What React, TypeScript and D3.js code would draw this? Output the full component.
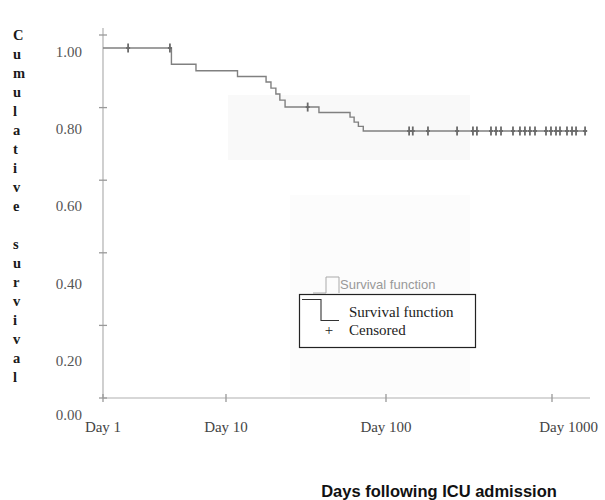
import React from 'react';
import * as d3 from 'd3';

// ---- data ----
const xTickDays = [1, 10, 100, 1000];
const xTickLabels = ['Day 1', 'Day 10', 'Day 100', 'Day 1000'];
const yTickValues = [0, 0.2, 0.4, 0.6, 0.8, 1.0];
const yTickLabels = ['0.00', '0.20', '0.40', '0.60', '0.80', '1.00'];
const eventDays = [1, 3.6, 5.7, 11.8, 17.8, 19.1, 20.5, 21.7, 23.4, 38.1, 59.6, 63.2, 67.2, 72.1];
const survival = [1.0, 0.958, 0.941, 0.926, 0.912, 0.896, 0.881, 0.865, 0.847, 0.833, 0.821, 0.808, 0.797, 0.785];
const lastDay = 1630;
const censoredDays = [1.6, 3.5, 32.4, 137.8, 145, 179, 268, 334, 353, 429, 460, 493, 582, 641, 687, 736, 790, 920, 986, 1057, 1117, 1231, 1320, 1396, 1582];
const yTitle = 'Cumulative survival';
const xTitle = 'Days following ICU admission';
const legendLabels = ['Survival function', 'Censored'];

const W = 605;
const H = 500;

export default function App() {
  // x: log-day positions (piecewise, as drawn in the scan)
  const xLog = d3.scaleLinear().domain([0, 1, 2, 3]).range([103, 226, 386, 552]);
  const x = (d: number) => xLog(Math.log10(d));
  // y for the curve and value labels
  const y = d3.scaleLinear().domain([0, 1]).range([434, 48]);
  // y for the axis frame ticks
  const yAxis = d3.scaleLinear().domain([0, 1]).range([398, 35]);

  const axisX = xLog(0);
  const axisY = yAxis(0);

  const pts: [number, number][] = eventDays.map((d, i) => [d, survival[i]]);
  pts.push([lastDay, survival[survival.length - 1]]);
  const line = d3
    .line<[number, number]>()
    .x((p) => x(p[0]))
    .y((p) => y(p[1]))
    .curve(d3.curveStepAfter);

  const survAt = (t: number) => {
    let s = survival[0];
    eventDays.forEach((d, i) => {
      if (d <= t) s = survival[i];
    });
    return s;
  };

  const serif = "'Liberation Serif', 'Times New Roman', serif";
  const sans = "'Liberation Sans', Arial, sans-serif";
  const titleChars = yTitle.split('');

  return (
    <svg
      width={W}
      height={H}
      style={{ position: 'absolute', left: 0, top: 0, background: '#fff' }}
    >
      <rect x={0} y={0} width={W} height={H} fill="#fff" />
      {/* faint scan shading */}
      <rect x={228} y={95} width={242} height={65} fill="#f9f9f9" />
      <rect x={290} y={195} width={180} height={200} fill="#fcfcfc" />

      {/* y title, stacked letters */}
      {titleChars.map((c, i) => (
        <text
          key={i}
          x={13}
          y={40 + i * 19}
          fontFamily={serif}
          fontWeight="bold"
          fontSize={14.5}
          fill="#1a1a1a"
        >
          {c}
        </text>
      ))}

      {/* axes */}
      <line x1={axisX} y1={28} x2={axisX} y2={axisY} stroke="#b0b0b0" strokeWidth={1.2} />
      <line x1={axisX} y1={axisY} x2={590} y2={axisY} stroke="#b0b0b0" strokeWidth={1.2} />
      {yTickValues.map((v) => (
        <line
          key={'yt' + v}
          x1={axisX - 4}
          x2={axisX + 4}
          y1={yAxis(v)}
          y2={yAxis(v)}
          stroke="#999"
          strokeWidth={1.3}
        />
      ))}
      {xTickDays.map((d) => (
        <line
          key={'xt' + d}
          x1={x(d)}
          x2={x(d)}
          y1={axisY - 4}
          y2={axisY + 4}
          stroke="#999"
          strokeWidth={1.3}
        />
      ))}

      {/* y labels */}
      {yTickValues.map((v, i) => (
        <text
          key={'yl' + v}
          x={82}
          y={v === 0 ? axisY + 22 : y(v) + 9}
          textAnchor="end"
          fontFamily={serif}
          fontSize={15}
          fill="#555"
        >
          {yTickLabels[i]}
        </text>
      ))}

      {/* x labels */}
      {xTickDays.map((d, i) => {
        const last = i === xTickDays.length - 1;
        return (
          <text
            key={'xl' + d}
            x={last ? 598 : x(d)}
            y={432}
            textAnchor={last ? 'end' : 'middle'}
            fontFamily={serif}
            fontSize={15}
            fill="#444"
          >
            {xTickLabels[i]}
          </text>
        );
      })}

      {/* survival curve */}
      <path d={line(pts) || ''} fill="none" stroke="#808080" strokeWidth={1.4} />

      {/* censored marks */}
      {censoredDays.map((d, i) => {
        const cx = x(d);
        const cy = y(survAt(d));
        return (
          <g key={'c' + i} stroke="#6a6a6a" strokeWidth={1.8}>
            <line x1={cx} x2={cx} y1={cy - 4.5} y2={cy + 4.5} />
            <line x1={cx - 2} x2={cx + 2} y1={cy} y2={cy} />
          </g>
        );
      })}

      {/* ghost legend */}
      <path d="M313,293 H326 V277 H339 V293" fill="none" stroke="#aaa" strokeWidth={1} />
      <text x={340} y={289} fontFamily={sans} fontSize={13} fill="#999">
        {legendLabels[0]}
      </text>

      {/* legend */}
      <rect x={299.5} y={294.5} width={176} height={53} fill="#fff" stroke="#222" strokeWidth={1.2} />
      <path d="M302,299.5 H321 V320.5 H339" fill="none" stroke="#333" strokeWidth={1.1} />
      <text x={349} y={317} fontFamily={serif} fontSize={15} fill="#222">
        {legendLabels[0]}
      </text>
      <text x={329} y={335} textAnchor="middle" fontFamily={serif} fontSize={15} fill="#222">
        +
      </text>
      <text x={349} y={335} fontFamily={serif} fontSize={15} fill="#222">
        {legendLabels[1]}
      </text>

      {/* x title */}
      <text
        x={439}
        y={497}
        textAnchor="middle"
        fontFamily={sans}
        fontWeight="bold"
        fontSize={16.5}
        fill="#111"
      >
        {xTitle}
      </text>
    </svg>
  );
}
